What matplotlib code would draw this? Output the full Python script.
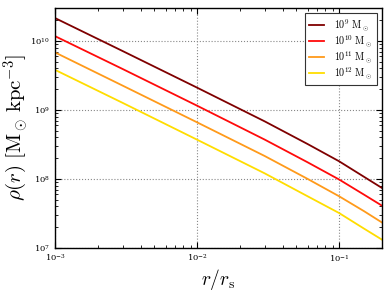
import matplotlib
matplotlib.use("Agg")
import matplotlib.pyplot as plt

plt.rcParams['mathtext.fontset'] = 'cm'
plt.rcParams['font.family'] = ['DejaVu Serif']

r = [0.001, 0.003, 0.01, 0.03, 0.06, 0.1, 0.15, 0.2]
rho_1e9 = [2.14e10, 7.1e9, 2.1e9, 6.8e8, 3.2e8, 1.8e8, 1.07e8, 7.4e7]
rho_1e10 = [1.17e10, 3.9e9, 1.15e9, 3.7e8, 1.74e8, 9.8e7, 5.9e7, 4.1e7]
rho_1e11 = [6.8e9, 2.24e9, 6.6e8, 2.14e8, 1.0e8, 5.6e7, 3.4e7, 2.34e7]
rho_1e12 = [3.8e9, 1.26e9, 3.7e8, 1.2e8, 5.6e7, 3.2e7, 1.9e7, 1.32e7]
labels = [r'$10^{9}\ \mathrm{M}_\odot$', r'$10^{10}\ \mathrm{M}_\odot$',
          r'$10^{11}\ \mathrm{M}_\odot$', r'$10^{12}\ \mathrm{M}_\odot$']
colors = ['#7f0000', '#ff0a0a', '#ff9a1a', '#ffdd00']

fig = plt.figure(figsize=(3.9, 2.93), dpi=100)
ax = fig.add_axes([0.141, 0.154, 0.838, 0.819])
for y, lab, c in zip([rho_1e9, rho_1e10, rho_1e11, rho_1e12], labels, colors):
    ax.plot(r, y, color=c, lw=1.3, label=lab)
ax.set_xscale('log')
ax.set_yscale('log')
ax.set_xlim(1e-3, 0.2)
ax.set_ylim(1e7, 3e10)
ax.grid(True, which='major', ls=':', color='#888888', lw=0.8)
ax.tick_params(which='both', direction='in', top=True, right=True, labelsize=6)
ax.tick_params(which='major', length=4)
ax.tick_params(which='minor', length=2)
ax.set_xlabel(r'$r/r_\mathrm{s}$', fontsize=14, labelpad=2)
ax.set_ylabel(r'$\rho(r)\ [\mathrm{M}_\odot\,\mathrm{kpc}^{-3}]$', fontsize=15, labelpad=0)
leg = ax.legend(loc='upper right', fontsize=7.2, fancybox=False, framealpha=1,
                edgecolor='#333333', handlelength=1.5, handletextpad=1.0,
                borderpad=0.4, labelspacing=0.05)
leg.get_frame().set_linewidth(0.8)
for s in ax.spines.values():
    s.set_linewidth(1.0)
fig.savefig('out.png', dpi=100)
